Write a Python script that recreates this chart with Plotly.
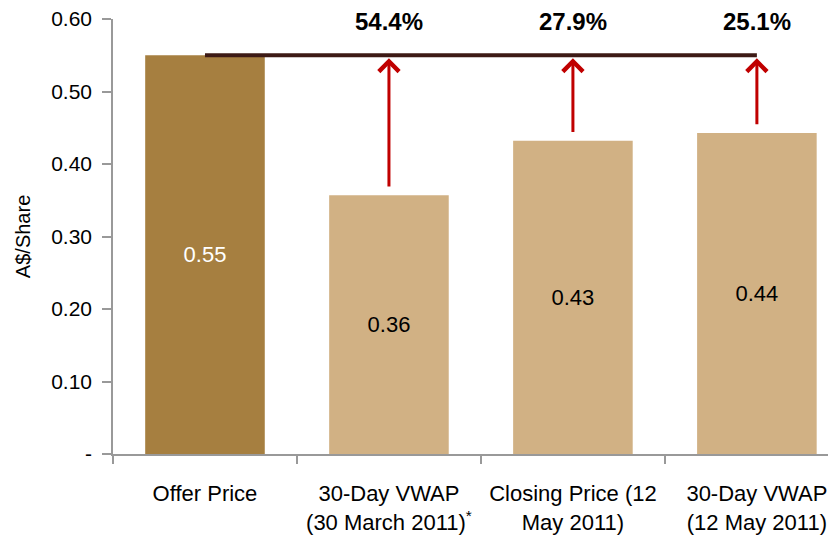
import plotly.graph_objects as go

# ---- data ----
categories = ["Offer Price", "30-Day VWAP<br>(30 March 2011)<sup>*</sup>",
              "Closing Price (12<br>May 2011)", "30-Day VWAP<br>(12 May 2011)"]
values = [0.55, 0.357, 0.432, 0.443]
value_labels = ["0.55", "0.36", "0.43", "0.44"]
premium_labels = ["54.4%", "27.9%", "25.1%"]
y_tickvals = [0, 0.1, 0.2, 0.3, 0.4, 0.5, 0.6]
y_ticktext = ["-", "0.10", "0.20", "0.30", "0.40", "0.50", "0.60"]

FONT = "Liberation Sans, Arial, sans-serif"
DARK = "#A67F40"
LIGHT = "#D1B184"
RED = "#C00000"
LINE = "#3D1A15"

fig = go.Figure()
fig.add_trace(go.Bar(
    x=categories, y=values, width=0.65,
    marker=dict(color=[DARK] + [LIGHT] * (len(values) - 1), line=dict(width=0)),
    text=value_labels, textposition="inside", insidetextanchor="middle",
    textangle=0,
    textfont=dict(family=FONT, size=22, color=["white"] + ["black"] * (len(values) - 1)),
    hoverinfo="skip",
))

# horizontal offer price line
fig.add_trace(go.Scatter(
    x=[categories[0], categories[-1]], y=[values[0], values[0]], mode="lines",
    line=dict(color=LINE, width=4), hoverinfo="skip", showlegend=False,
))

annotations = []
for i, lab in enumerate(premium_labels, start=1):
    annotations.append(dict(
        x=i, y=values[0], xref="x", yref="y",
        ax=i, ay=values[i] + 0.01, axref="x", ayref="y",
        text="", showarrow=True, arrowhead=4, arrowsize=1.3,
        arrowwidth=3, arrowcolor=RED, standoff=3,
    ))
    annotations.append(dict(
        x=i, y=0.596, xref="x", yref="y", text="<b>%s</b>" % lab,
        showarrow=False, font=dict(family=FONT, size=24, color="black"),
        xanchor="center", yanchor="middle",
    ))

annotations.append(dict(
    x=-0.125, y=0.5, xref="paper", yref="paper", text="A$/Share", textangle=-90,
    showarrow=False, font=dict(family=FONT, size=20, color="black"),
    xanchor="center", yanchor="middle",
))

fig.update_layout(
    width=828, height=528,
    margin=dict(l=105, r=0, t=11, b=82, autoexpand=False),
    paper_bgcolor="white", plot_bgcolor="white",
    showlegend=False,
    font=dict(family=FONT, color="black"),
    annotations=annotations,
    xaxis=dict(
        type="category", range=[-0.5, 3.43], automargin=False,
        tickson="boundaries", ticks="outside", ticklen=8, tickcolor="#999999",
        tickwidth=1.5, showline=True, linecolor="#999999", linewidth=1.5,
        showgrid=False, zeroline=False, tickfont=dict(family=FONT, size=22, color="black"),
        ticklabelstandoff=19, ticklabeloverflow="allow",
    ),
    yaxis=dict(
        range=[0, 0.6001], tickmode="array", tickvals=y_tickvals, ticktext=y_ticktext,
        ticks="outside", ticklen=9, tickcolor="#999999", tickwidth=1.5, automargin=False,
        showline=True, linecolor="#999999", linewidth=1.5, showgrid=False,
        zeroline=False, tickfont=dict(family=FONT, size=21, color="black"),
        ticklabelstandoff=6, ticklabeloverflow="allow",
    ),
)

fig.write_html("out.html")
